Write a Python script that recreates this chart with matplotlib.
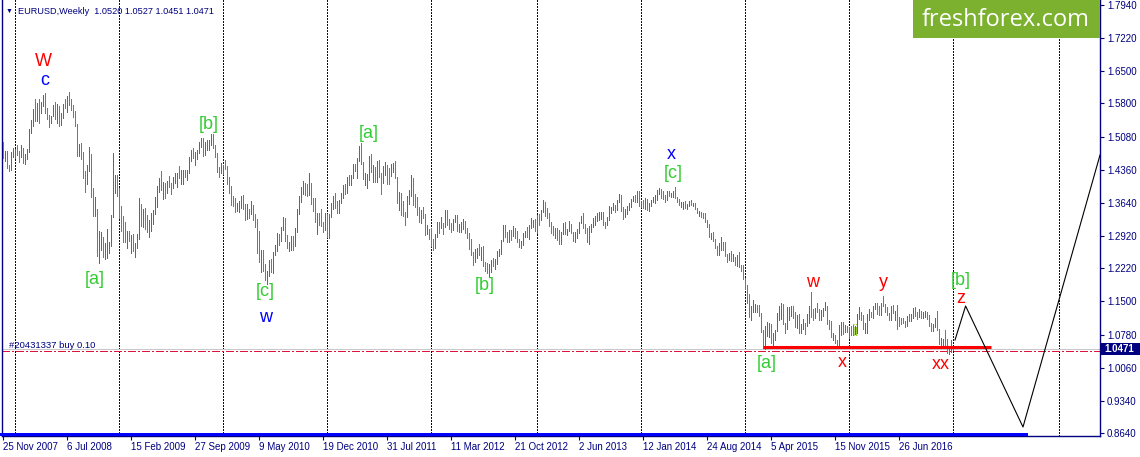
import numpy as np
import pandas as pd
import matplotlib
matplotlib.use("Agg")
import matplotlib.pyplot as plt
from matplotlib.patches import Rectangle
from matplotlib.transforms import blended_transform_factory as blend

# ---------------- data ----------------
first_week = "2007-11-25"
first_open = 1.482

week_high = [
    1.497, 1.477, 1.477, 1.446, 1.475, 1.484, 1.481, 1.490, 1.476, 1.489,
    1.484, 1.471, 1.482, 1.524, 1.545, 1.568, 1.590, 1.582, 1.589, 1.584,
    1.598, 1.602, 1.570, 1.556, 1.553, 1.577, 1.584, 1.579, 1.575, 1.559,
    1.579, 1.590, 1.596, 1.604, 1.590, 1.577, 1.563, 1.536, 1.491, 1.494,
    1.474, 1.434, 1.447, 1.486, 1.471, 1.396, 1.376, 1.351, 1.302, 1.300,
    1.289, 1.276, 1.308, 1.278, 1.337, 1.472, 1.424, 1.424, 1.396, 1.357,
    1.336, 1.323, 1.303, 1.303, 1.295, 1.296, 1.276, 1.297, 1.374, 1.362,
    1.351, 1.353, 1.338, 1.327, 1.343, 1.348, 1.377, 1.401, 1.417, 1.434,
    1.410, 1.408, 1.411, 1.423, 1.408, 1.420, 1.428, 1.430, 1.445, 1.436,
    1.435, 1.436, 1.436, 1.463, 1.479, 1.484, 1.475, 1.478, 1.497, 1.506,
    1.505, 1.496, 1.500, 1.500, 1.514, 1.513, 1.489, 1.472, 1.443, 1.451,
    1.446, 1.458, 1.445, 1.420, 1.401, 1.378, 1.374, 1.364, 1.369, 1.378,
    1.382, 1.361, 1.361, 1.350, 1.369, 1.359, 1.340, 1.330, 1.304, 1.262,
    1.262, 1.232, 1.215, 1.240, 1.241, 1.258, 1.272, 1.298, 1.297, 1.311,
    1.333, 1.332, 1.294, 1.280, 1.292, 1.291, 1.310, 1.350, 1.380, 1.398,
    1.412, 1.408, 1.405, 1.428, 1.407, 1.375, 1.375, 1.343, 1.342, 1.350,
    1.323, 1.343, 1.340, 1.339, 1.363, 1.380, 1.386, 1.368, 1.370, 1.385,
    1.402, 1.404, 1.421, 1.425, 1.425, 1.448, 1.449, 1.462, 1.488, 1.494,
    1.453, 1.429, 1.426, 1.466, 1.470, 1.446, 1.442, 1.454, 1.457, 1.428,
    1.445, 1.452, 1.446, 1.440, 1.449, 1.451, 1.455, 1.421, 1.388, 1.385,
    1.368, 1.345, 1.380, 1.392, 1.425, 1.418, 1.384, 1.376, 1.354, 1.349,
    1.355, 1.340, 1.316, 1.307, 1.309, 1.285, 1.297, 1.322, 1.323, 1.333,
    1.321, 1.349, 1.349, 1.330, 1.320, 1.329, 1.338, 1.337, 1.318, 1.322,
    1.329, 1.324, 1.310, 1.298, 1.286, 1.257, 1.264, 1.266, 1.275, 1.269,
    1.270, 1.236, 1.234, 1.232, 1.240, 1.245, 1.242, 1.259, 1.263, 1.283,
    1.317, 1.317, 1.300, 1.305, 1.305, 1.314, 1.309, 1.304, 1.285, 1.282,
    1.299, 1.304, 1.312, 1.317, 1.331, 1.326, 1.330, 1.337, 1.340, 1.348,
    1.371, 1.366, 1.352, 1.342, 1.322, 1.314, 1.310, 1.309, 1.306, 1.300,
    1.320, 1.322, 1.307, 1.324, 1.319, 1.301, 1.300, 1.307, 1.323, 1.336,
    1.342, 1.318, 1.310, 1.314, 1.319, 1.331, 1.335, 1.341, 1.345, 1.345,
    1.345, 1.323, 1.334, 1.357, 1.355, 1.364, 1.359, 1.371, 1.383, 1.381,
    1.354, 1.351, 1.358, 1.363, 1.372, 1.380, 1.381, 1.390, 1.389, 1.369,
    1.370, 1.374, 1.373, 1.364, 1.371, 1.377, 1.382, 1.392, 1.397, 1.394,
    1.390, 1.381, 1.389, 1.390, 1.386, 1.389, 1.399, 1.377, 1.373, 1.365,
    1.367, 1.368, 1.361, 1.368, 1.370, 1.364, 1.364, 1.353, 1.346, 1.345,
    1.342, 1.341, 1.326, 1.318, 1.298, 1.300, 1.286, 1.271, 1.277, 1.289,
    1.279, 1.278, 1.254, 1.255, 1.260, 1.252, 1.247, 1.250, 1.258, 1.230,
    1.230, 1.200, 1.186, 1.166, 1.140, 1.153, 1.145, 1.143, 1.142, 1.124,
    1.088, 1.097, 1.105, 1.104, 1.100, 1.082, 1.088, 1.125, 1.139, 1.147,
    1.145, 1.102, 1.138, 1.138, 1.141, 1.141, 1.128, 1.120, 1.122, 1.100,
    1.112, 1.102, 1.123, 1.141, 1.171, 1.133, 1.136, 1.146, 1.133, 1.131,
    1.136, 1.149, 1.140, 1.110, 1.107, 1.082, 1.078, 1.066, 1.099, 1.106,
    1.106, 1.098, 1.097, 1.095, 1.096, 1.098, 1.096, 1.123, 1.138, 1.127,
    1.120, 1.103, 1.122, 1.134, 1.127, 1.140, 1.146, 1.146, 1.140, 1.146,
    1.162, 1.145, 1.137, 1.124, 1.139, 1.142, 1.130, 1.143, 1.117, 1.113,
    1.113, 1.107, 1.119, 1.123, 1.123, 1.136, 1.138, 1.127, 1.133, 1.129,
    1.128, 1.129, 1.126, 1.121, 1.104, 1.100, 1.114, 1.130, 1.089, 1.070,
    1.068, 1.087, 1.069, 1.050, 1.065, 1.0527,
]

week_low = [
    1.462, 1.456, 1.440, 1.434, 1.436, 1.464, 1.462, 1.467, 1.453, 1.464,
    1.451, 1.449, 1.460, 1.474, 1.515, 1.530, 1.542, 1.543, 1.537, 1.560,
    1.575, 1.560, 1.547, 1.528, 1.537, 1.552, 1.547, 1.538, 1.530, 1.533,
    1.548, 1.570, 1.561, 1.577, 1.566, 1.551, 1.530, 1.466, 1.465, 1.460,
    1.418, 1.388, 1.404, 1.433, 1.377, 1.336, 1.336, 1.248, 1.233, 1.261,
    1.247, 1.242, 1.245, 1.256, 1.270, 1.333, 1.385, 1.380, 1.332, 1.302,
    1.280, 1.279, 1.267, 1.282, 1.256, 1.260, 1.246, 1.266, 1.285, 1.314,
    1.311, 1.308, 1.301, 1.290, 1.304, 1.318, 1.340, 1.355, 1.387, 1.392,
    1.373, 1.374, 1.386, 1.398, 1.384, 1.396, 1.407, 1.398, 1.418, 1.405,
    1.406, 1.420, 1.414, 1.430, 1.456, 1.462, 1.447, 1.459, 1.473, 1.485,
    1.466, 1.467, 1.478, 1.479, 1.489, 1.484, 1.463, 1.432, 1.421, 1.428,
    1.426, 1.437, 1.406, 1.386, 1.359, 1.358, 1.344, 1.346, 1.344, 1.352,
    1.351, 1.327, 1.330, 1.332, 1.340, 1.326, 1.311, 1.255, 1.235, 1.214,
    1.215, 1.196, 1.188, 1.205, 1.214, 1.211, 1.250, 1.260, 1.272, 1.282,
    1.306, 1.281, 1.267, 1.259, 1.262, 1.262, 1.271, 1.301, 1.339, 1.366,
    1.384, 1.381, 1.378, 1.382, 1.361, 1.346, 1.322, 1.297, 1.317, 1.313,
    1.300, 1.305, 1.289, 1.287, 1.333, 1.350, 1.353, 1.341, 1.343, 1.364,
    1.374, 1.384, 1.385, 1.402, 1.402, 1.419, 1.434, 1.419, 1.456, 1.448,
    1.415, 1.403, 1.397, 1.413, 1.431, 1.409, 1.410, 1.409, 1.421, 1.384,
    1.408, 1.425, 1.405, 1.405, 1.422, 1.431, 1.419, 1.364, 1.349, 1.338,
    1.336, 1.315, 1.334, 1.361, 1.379, 1.360, 1.355, 1.338, 1.322, 1.320,
    1.332, 1.295, 1.296, 1.286, 1.270, 1.262, 1.266, 1.290, 1.298, 1.310,
    1.297, 1.311, 1.316, 1.307, 1.301, 1.306, 1.322, 1.303, 1.300, 1.300,
    1.308, 1.299, 1.288, 1.264, 1.251, 1.229, 1.235, 1.245, 1.251, 1.240,
    1.227, 1.217, 1.211, 1.204, 1.214, 1.226, 1.221, 1.232, 1.248, 1.254,
    1.281, 1.289, 1.279, 1.280, 1.284, 1.292, 1.288, 1.279, 1.268, 1.266,
    1.273, 1.290, 1.289, 1.286, 1.310, 1.311, 1.302, 1.299, 1.317, 1.326,
    1.345, 1.335, 1.331, 1.314, 1.298, 1.295, 1.288, 1.283, 1.275, 1.275,
    1.297, 1.296, 1.294, 1.302, 1.298, 1.282, 1.280, 1.288, 1.299, 1.320,
    1.310, 1.298, 1.279, 1.275, 1.300, 1.311, 1.317, 1.325, 1.326, 1.328,
    1.316, 1.310, 1.317, 1.327, 1.341, 1.349, 1.345, 1.349, 1.366, 1.347,
    1.329, 1.334, 1.339, 1.349, 1.354, 1.369, 1.365, 1.367, 1.358, 1.355,
    1.353, 1.350, 1.348, 1.347, 1.357, 1.366, 1.364, 1.370, 1.383, 1.375,
    1.373, 1.367, 1.370, 1.379, 1.377, 1.377, 1.375, 1.365, 1.360, 1.355,
    1.350, 1.352, 1.351, 1.357, 1.359, 1.357, 1.350, 1.342, 1.336, 1.333,
    1.332, 1.322, 1.312, 1.290, 1.286, 1.281, 1.267, 1.250, 1.251, 1.261,
    1.261, 1.249, 1.236, 1.240, 1.238, 1.237, 1.228, 1.227, 1.225, 1.215,
    1.198, 1.176, 1.146, 1.115, 1.110, 1.126, 1.127, 1.126, 1.118, 1.083,
    1.048, 1.046, 1.075, 1.072, 1.059, 1.052, 1.066, 1.086, 1.109, 1.112,
    1.100, 1.082, 1.090, 1.109, 1.118, 1.113, 1.095, 1.092, 1.082, 1.081,
    1.090, 1.080, 1.096, 1.102, 1.117, 1.109, 1.113, 1.126, 1.110, 1.110,
    1.118, 1.132, 1.101, 1.090, 1.072, 1.067, 1.060, 1.056, 1.052, 1.078,
    1.080, 1.083, 1.084, 1.071, 1.078, 1.078, 1.079, 1.081, 1.111, 1.109,
    1.089, 1.081, 1.082, 1.109, 1.115, 1.114, 1.133, 1.123, 1.121, 1.121,
    1.139, 1.128, 1.120, 1.109, 1.110, 1.125, 1.110, 1.091, 1.096, 1.100,
    1.102, 1.095, 1.097, 1.108, 1.107, 1.113, 1.118, 1.112, 1.115, 1.114,
    1.114, 1.116, 1.112, 1.096, 1.086, 1.086, 1.095, 1.088, 1.057, 1.052,
    1.054, 1.055, 1.037, 1.035, 1.041, 1.0451,
]

week_close = [
    1.463, 1.466, 1.442, 1.438, 1.472, 1.475, 1.476, 1.469, 1.467, 1.484,
    1.452, 1.463, 1.480, 1.520, 1.536, 1.566, 1.544, 1.580, 1.573, 1.581,
    1.593, 1.562, 1.547, 1.542, 1.553, 1.576, 1.555, 1.575, 1.542, 1.555,
    1.578, 1.571, 1.594, 1.580, 1.571, 1.555, 1.531, 1.467, 1.485, 1.467,
    1.424, 1.420, 1.446, 1.462, 1.378, 1.340, 1.343, 1.253, 1.271, 1.272,
    1.258, 1.262, 1.270, 1.272, 1.334, 1.408, 1.414, 1.394, 1.342, 1.323,
    1.282, 1.280, 1.293, 1.286, 1.292, 1.266, 1.268, 1.292, 1.359, 1.327,
    1.348, 1.315, 1.302, 1.324, 1.328, 1.342, 1.359, 1.400, 1.415, 1.397,
    1.397, 1.396, 1.410, 1.406, 1.404, 1.413, 1.420, 1.425, 1.420, 1.420,
    1.434, 1.432, 1.433, 1.462, 1.470, 1.468, 1.472, 1.477, 1.491, 1.501,
    1.472, 1.487, 1.491, 1.493, 1.499, 1.486, 1.465, 1.434, 1.432, 1.433,
    1.441, 1.438, 1.414, 1.387, 1.363, 1.362, 1.360, 1.363, 1.363, 1.376,
    1.353, 1.341, 1.346, 1.344, 1.349, 1.338, 1.329, 1.276, 1.236, 1.257,
    1.227, 1.197, 1.211, 1.239, 1.228, 1.255, 1.264, 1.293, 1.291, 1.307,
    1.328, 1.285, 1.270, 1.276, 1.290, 1.272, 1.305, 1.349, 1.379, 1.396,
    1.405, 1.396, 1.394, 1.403, 1.368, 1.367, 1.323, 1.341, 1.322, 1.321,
    1.308, 1.336, 1.291, 1.338, 1.361, 1.361, 1.358, 1.353, 1.368, 1.375,
    1.399, 1.391, 1.418, 1.409, 1.423, 1.447, 1.443, 1.459, 1.484, 1.452,
    1.416, 1.416, 1.416, 1.464, 1.433, 1.433, 1.418, 1.452, 1.426, 1.415,
    1.437, 1.439, 1.429, 1.424, 1.441, 1.448, 1.420, 1.365, 1.379, 1.350,
    1.338, 1.337, 1.379, 1.389, 1.414, 1.379, 1.375, 1.352, 1.324, 1.345,
    1.339, 1.303, 1.305, 1.296, 1.272, 1.268, 1.294, 1.321, 1.315, 1.319,
    1.313, 1.345, 1.320, 1.312, 1.308, 1.324, 1.334, 1.308, 1.308, 1.321,
    1.322, 1.308, 1.292, 1.278, 1.252, 1.241, 1.263, 1.264, 1.256, 1.266,
    1.229, 1.225, 1.216, 1.231, 1.239, 1.233, 1.233, 1.251, 1.258, 1.282,
    1.312, 1.298, 1.286, 1.304, 1.295, 1.302, 1.294, 1.283, 1.271, 1.274,
    1.297, 1.299, 1.292, 1.316, 1.318, 1.322, 1.306, 1.336, 1.331, 1.346,
    1.364, 1.337, 1.336, 1.319, 1.302, 1.301, 1.307, 1.299, 1.282, 1.299,
    1.311, 1.302, 1.303, 1.311, 1.300, 1.284, 1.293, 1.300, 1.322, 1.335,
    1.312, 1.301, 1.283, 1.307, 1.314, 1.327, 1.328, 1.334, 1.335, 1.338,
    1.322, 1.319, 1.329, 1.352, 1.353, 1.356, 1.355, 1.368, 1.380, 1.349,
    1.337, 1.350, 1.356, 1.359, 1.370, 1.374, 1.368, 1.389, 1.359, 1.368,
    1.354, 1.368, 1.349, 1.363, 1.369, 1.374, 1.380, 1.391, 1.391, 1.379,
    1.375, 1.370, 1.388, 1.381, 1.383, 1.387, 1.376, 1.370, 1.363, 1.363,
    1.364, 1.354, 1.360, 1.365, 1.360, 1.360, 1.352, 1.343, 1.343, 1.341,
    1.340, 1.324, 1.313, 1.295, 1.296, 1.284, 1.268, 1.252, 1.263, 1.276,
    1.267, 1.252, 1.245, 1.253, 1.239, 1.246, 1.229, 1.243, 1.226, 1.218,
    1.199, 1.184, 1.156, 1.121, 1.129, 1.131, 1.139, 1.138, 1.120, 1.084,
    1.049, 1.083, 1.089, 1.097, 1.060, 1.081, 1.087, 1.120, 1.120, 1.145,
    1.101, 1.096, 1.112, 1.126, 1.135, 1.116, 1.111, 1.116, 1.083, 1.098,
    1.098, 1.097, 1.111, 1.138, 1.118, 1.115, 1.133, 1.130, 1.120, 1.121,
    1.135, 1.135, 1.102, 1.100, 1.074, 1.077, 1.065, 1.059, 1.088, 1.099,
    1.087, 1.097, 1.086, 1.093, 1.092, 1.080, 1.083, 1.116, 1.126, 1.113,
    1.093, 1.100, 1.115, 1.127, 1.117, 1.139, 1.141, 1.128, 1.122, 1.145,
    1.140, 1.129, 1.122, 1.113, 1.137, 1.126, 1.127, 1.113, 1.110, 1.105,
    1.103, 1.098, 1.117, 1.109, 1.116, 1.133, 1.119, 1.116, 1.123, 1.115,
    1.123, 1.124, 1.120, 1.097, 1.089, 1.098, 1.113, 1.089, 1.059, 1.059,
    1.066, 1.056, 1.045, 1.045, 1.052, 1.0471,
]

price_ticks = [0.8640, 0.9340, 1.0060, 1.0780, 1.1500, 1.2220, 1.2920,
               1.3640, 1.4360, 1.5080, 1.5800, 1.6500, 1.7220, 1.7940]
date_label_step = 32

header_text = "EURUSD,Weekly  1.0520 1.0527 1.0451 1.0471"
bid_price = 1.0471
order_price = 1.0428
order_text = "#20431337 buy 0.10"
support_level = 1.0505
support_weeks = [380, 494]
proj_weeks = [476, 481.3, 510, 548.5]
proj_price = [1.066, 1.140, 0.877, 1.468]

RED, BLUE, GREEN = "#ff0000", "#0000ff", "#33cc33"
wave_text = ["W", "c", "[a]", "[b]", "[c]", "w", "[a]", "[b]", "x", "[c]",
             "[a]", "w", "x", "y", "[b]", "z", "xx"]
wave_week = [20, 21, 46, 103, 131, 131.5, 183, 241, 334, 335,
             382, 405, 419.5, 440, 479, 479, 469]
wave_price = [1.6604, 1.6208, 1.1884, 1.5252, 1.1623, 1.1058, 1.5057, 1.1754,
              1.4600, 1.4187, 1.0059, 1.1819, 1.0081, 1.1804, 1.1862, 1.1471, 1.0037]
wave_color = [RED, BLUE, GREEN, GREEN, GREEN, BLUE, GREEN, GREEN, BLUE, GREEN,
              GREEN, RED, RED, RED, GREEN, RED, RED]

# ---------------- figure ----------------
plt.rcParams["font.family"] = ["Liberation Sans", "DejaVu Sans"]
W, H = 1140, 457
NAVY = "#000080"
fig = plt.figure(figsize=(W / 100, H / 100), dpi=100)
fig.patch.set_facecolor("white")
ax = fig.add_axes([2 / W, 21 / H, 1098 / W, 436 / H])
ax.set_facecolor("white")

n = min(len(week_high), len(week_low), len(week_close))
idx = np.arange(n)
hi = np.array(week_high[:n])
lo = np.array(week_low[:n])
cl = np.array(week_close[:n])
op = np.concatenate([[first_open], cl[:-1]])
cols = np.where(cl >= op, "#2e8b2e", "#ff4500")

ax.set_xlim(-0.5, 548.5)
ax.set_ylim(0.85748, 1.80486)

# year separators
all_dates = pd.date_range(first_week, periods=560, freq="7D")
for i in range(1, len(all_dates)):
    if all_dates[i].year != all_dates[i - 1].year and i <= 548:
        ax.axvline(i, color=NAVY, lw=0.72, ls=(0, (2.0, 2.0)), zorder=1,
                   antialiased=False)

# bid line and order line
ax.axhline(bid_price, color="#c8c8c8", lw=0.72, zorder=1, antialiased=False)
ax.axhline(order_price, color="#dc143c", lw=0.72, ls=(0, (7, 2.5, 1.5, 2.5)),
           zorder=2, antialiased=False)
ax.text(3, order_price + 0.0058, order_text, fontsize=6.8, color=NAVY,
        ha="left", va="baseline", zorder=3)

# small hidden label behind bars
ax.text(426.5, 1.0748, "ii", fontsize=12, color="#9acd32", ha="center",
        va="baseline", zorder=2)

# price bars: 1px vertical lines, one per week
ax.vlines(idx, lo, hi, colors=cols, linewidth=0.6, antialiased=False, zorder=3)

# support line
ax.hlines(support_level, support_weeks[0], support_weeks[1], color="#ff0000",
          lw=2.2, zorder=4)

# projection
ax.plot(proj_weeks, proj_price, color="black", lw=0.8, zorder=4)

# wave labels
for t, wk, pr, c in zip(wave_text, wave_week, wave_price, wave_color):
    ax.text(wk, pr, t, fontsize=13, color=c, ha="center", va="baseline", zorder=5)

# bottom blue strip
ax.add_patch(Rectangle((-1.5, 0), 514, 3.5 / 436,
                       transform=blend(ax.transData, ax.transAxes),
                       fc="#0000ff", ec="none", clip_on=False, zorder=4))

# axes styling
for s in ["left", "right", "bottom"]:
    ax.spines[s].set_color(NAVY)
    ax.spines[s].set_linewidth(1.0)
ax.spines["top"].set_visible(False)
ax.yaxis.tick_right()
ax.set_yticks(price_ticks)
ax.set_yticklabels([f"{v:.4f}" for v in price_ticks])
ax.tick_params(axis="y", length=3, width=0.8, colors=NAVY, labelsize=7, pad=2)

dates = pd.date_range(first_week, periods=n, freq="7D")
lab_idx = list(range(0, n, date_label_step))
ax.set_xticks(lab_idx)
ax.set_xticklabels([f"{dates[i].day} {dates[i]:%b %Y}" for i in lab_idx], ha="left")
ax.tick_params(axis="x", length=3, width=0.8, colors=NAVY, labelsize=7, pad=1)

# bid price tag on the price scale
tr = blend(fig.transFigure, ax.transData)
ax.add_patch(Rectangle((1101 / W, bid_price - 0.0135), 39 / W, 0.027, transform=tr,
                       fc=NAVY, ec="none", clip_on=False, zorder=6))
ax.text(1104 / W, bid_price, f"{bid_price:.4f}", transform=tr, color="white",
        fontsize=7, fontweight="bold", ha="left", va="center", clip_on=False, zorder=7)

# header
fig.text(9 / W, 1 - 11 / H, "\u25bc", fontsize=5, color=NAVY, ha="center", va="center")
fig.text(18 / W, 1 - 11 / H, header_text, fontsize=6.6, color=NAVY, ha="left", va="center")

# watermark
fig.add_artist(Rectangle((913 / W, 1 - 38 / H), 187 / W, 38 / H, transform=fig.transFigure,
                         fc="#7bb12f", ec="none", zorder=5))
fig.text(1006 / W, 1 - 20 / H, "freshforex.com", fontsize=17, family="Open Sans",
         color="white", ha="center", va="center", zorder=6)

fig.savefig("out.png", dpi=100)
